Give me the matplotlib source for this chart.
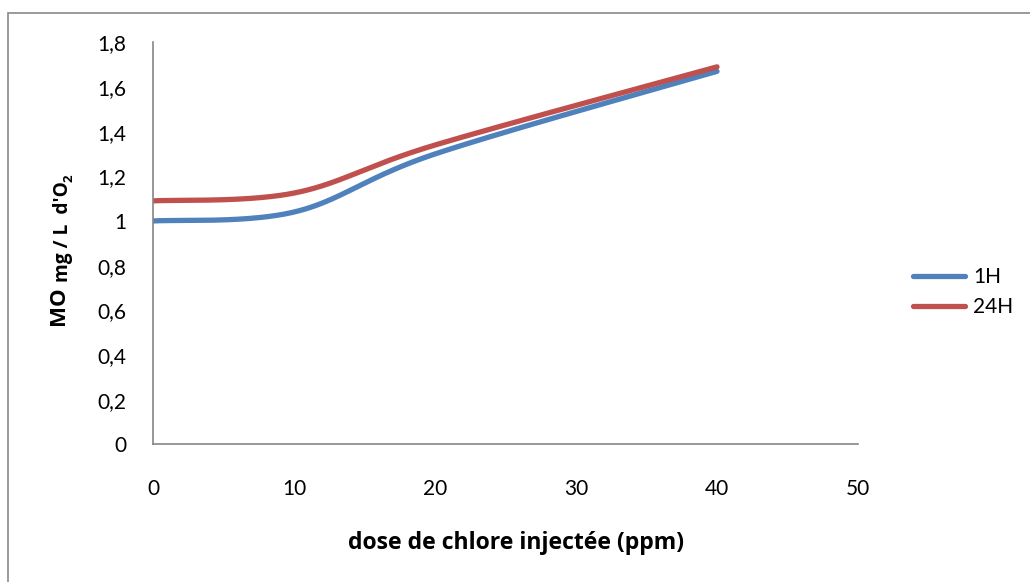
import numpy as np
import matplotlib
matplotlib.use("Agg")
import matplotlib.pyplot as plt
from matplotlib.patches import Rectangle
from matplotlib.ticker import FuncFormatter

# Data
dose = [0, 10, 20, 40]
mo_1h = [1.00, 1.04, 1.30, 1.67]
mo_24h = [1.09, 1.125, 1.34, 1.69]
series_names = ["1H", "24H"]
colors = ["#4F81BD", "#C0504D"]
xticks = [0, 10, 20, 30, 40, 50]
yticks = [0, 0.2, 0.4, 0.6, 0.8, 1.0, 1.2, 1.4, 1.6, 1.8]

plt.rcParams['font.family'] = ['Lato', 'DejaVu Sans']
BOLD = ['Open Sans', 'DejaVu Sans']


def smooth(x, y, n=60):
    p = np.column_stack([x, y]).astype(float)
    out = []
    m = len(p)
    for i in range(m - 1):
        p0 = p[i - 1] if i > 0 else p[i]
        p1 = p[i]
        p2 = p[i + 1]
        p3 = p[i + 2] if i + 2 < m else p[i + 1]
        c1 = p1 + (p2 - p0) / 6.0
        c2 = p2 - (p3 - p1) / 6.0
        t = np.linspace(0, 1, n)[:, None]
        b = ((1 - t) ** 3) * p1 + 3 * ((1 - t) ** 2) * t * c1 + 3 * (1 - t) * t ** 2 * c2 + t ** 3 * p2
        out.append(b if i == 0 else b[1:])
    b = np.vstack(out)
    return b[:, 0], b[:, 1]


fig = plt.figure(figsize=(10.30, 5.82), dpi=100)
fig.patches.append(Rectangle((8 / 1030, -0.1), 1.2, 1 - 13 / 582 + 0.1,
                             transform=fig.transFigure, fill=False,
                             edgecolor="#898989", linewidth=1.2))

ax = fig.add_axes([153 / 1030, 1 - 444.3 / 582, (858 - 153) / 1030, (444.3 - 42.3) / 582])

handles = []
for vals, name, c in zip([mo_1h, mo_24h], series_names, colors):
    sx, sy = smooth(dose, vals)
    h, = ax.plot(sx, sy, color=c, linewidth=3.8, solid_capstyle='round', label=name)
    handles.append(h)

ax.set_xlim(0, 50)
ax.set_ylim(0, 1.8)
ax.set_xticks(xticks)
ax.set_yticks(yticks)
ax.yaxis.set_major_formatter(FuncFormatter(lambda v, p: ("%g" % round(v, 1)).replace(".", ",")))
ax.tick_params(axis='both', length=0, labelsize=15, colors="#000000")
ax.tick_params(axis='y', pad=19)
ax.tick_params(axis='x', pad=25)
for s in ["top", "right"]:
    ax.spines[s].set_visible(False)
for s in ["left", "bottom"]:
    ax.spines[s].set_color("#868686")
    ax.spines[s].set_linewidth(1.2)

fig.text(516 / 1030, 1 - 543 / 582, "dose de chlore injectée (ppm)", ha='center', va='center',
         fontsize=16.6, fontweight='bold', family=BOLD)

# y label built from pieces of different sizes
fig.canvas.draw()
r = fig.canvas.get_renderer()
xlab = 59 / 1030
ybase = 1 - 325 / 582
t1 = fig.text(xlab, ybase, "MO", rotation=90, ha='center', va='bottom', fontsize=16,
              fontweight='bold', family=BOLD)
bb = t1.get_window_extent(r)
y2 = bb.y1 / fig.bbox.height + 4 / 582
t2 = fig.text(xlab + 4 / 1030, y2, "mg / L  d'O", rotation=90, ha='center', va='bottom',
              fontsize=13.8, fontweight='bold', family=BOLD)
bb2 = t2.get_window_extent(r)
y3 = bb2.y1 / fig.bbox.height
fig.text(xlab + 10 / 1030, y3, "2", rotation=90, ha='center', va='bottom', fontsize=9.5,
         fontweight='bold', family=BOLD)

leg = fig.legend(handles=handles, labels=series_names, loc='center left',
                 bbox_to_anchor=(894 / 1030, 1 - 292 / 582), frameon=False, fontsize=15,
                 handlelength=2.5, handletextpad=0.4, labelspacing=0.5)

fig.savefig("out.png", dpi=100)
